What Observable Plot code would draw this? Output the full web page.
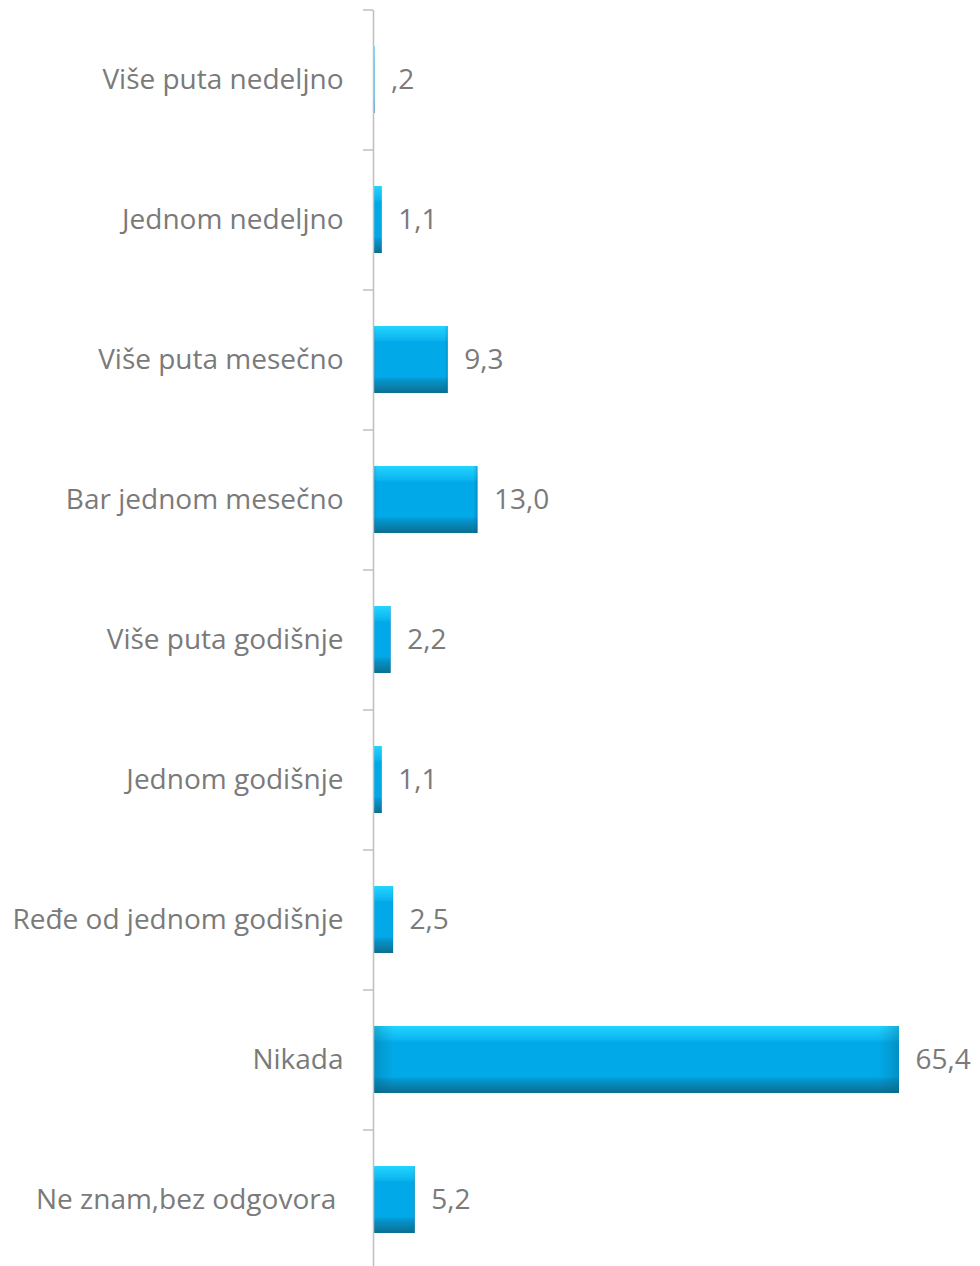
<!DOCTYPE html>
<html>
<head>
<meta charset="utf-8">
<script src="https://cdn.jsdelivr.net/npm/d3@7"></script>
<script src="https://cdn.jsdelivr.net/npm/@observablehq/plot@0.6"></script>
<style>
  html, body { margin: 0; padding: 0; background: #fff; }
  #chart svg { display: block; }
</style>
</head>
<body>
<div id="chart"></div>
<script>
const categories = [
  "Više puta nedeljno",
  "Jednom nedeljno",
  "Više puta mesečno",
  "Bar jednom mesečno",
  "Više puta godišnje",
  "Jednom godišnje",
  "Ređe od jednom godišnje",
  "Nikada",
  "Ne znam,bez odgovora\u00a0"
];
const values = [0.2, 1.1, 9.3, 13.0, 2.2, 1.1, 2.5, 65.4, 5.2];

const data = categories.map((c, i) => ({category: c, value: values[i]}));
const fmt = v => v.toFixed(1).replace(".", ",").replace(/^0,/, ",");

const chart = Plot.plot({
  width: 980,
  height: 1266,
  marginTop: 10,
  marginBottom: 0,
  marginLeft: 373,
  marginRight: 44,
  style: {fontFamily: "'Open Sans', sans-serif", background: "#fff"},
  x: {domain: [0, 70], axis: null},
  y: {domain: categories, range: [10, 1270], paddingInner: 0.52, paddingOuter: 0.26, axis: null},
  marks: [
    Plot.barX(data, {x: "value", y: "category", fill: "url(#barGradV)"}),
    Plot.barX(data, {x: "value", y: "category", fill: "url(#barGradH)"}),
    Plot.text(data, {x: "value", y: "category", text: d => fmt(d.value), textAnchor: "start", dx: 16, fontSize: 28, fill: "#7a7a7a"}),
    Plot.axisY({tickSize: 10, text: null, dy: -70, stroke: "#bfbfbf", strokeWidth: 1.5, label: null}),
    Plot.axisY({tickSize: 0, tickPadding: 30, fontSize: 28, fill: "#7a7a7a", label: null}),
    Plot.ruleX([0], {stroke: "#bfbfbf", strokeWidth: 1.5})
  ]
});

const defs = d3.select(chart).insert("defs", ":first-child");
const gv = defs.append("linearGradient").attr("id", "barGradV").attr("x1", 0).attr("y1", 0).attr("x2", 0).attr("y2", 1);
[[0, "#23d4ff"], [0.2, "#0cb6f0"], [0.24, "#02a9e8"], [0.76, "#02a9e8"], [0.8, "#0596cf"], [1, "#0a6f90"]]
  .forEach(([o, c]) => gv.append("stop").attr("offset", o).attr("stop-color", c));
const gh = defs.append("linearGradient").attr("id", "barGradH").attr("x1", 0).attr("y1", 0).attr("x2", 1).attr("y2", 0);
[[0, "#065f80", 0.35], [0.02, "#065f80", 0.15], [0.04, "#065f80", 0], [0.96, "#065f80", 0], [0.98, "#065f80", 0.15], [1, "#065f80", 0.35]]
  .forEach(([o, c, a]) => gh.append("stop").attr("offset", o).attr("stop-color", c).attr("stop-opacity", a));

document.getElementById("chart").appendChild(chart);
</script>
</body>
</html>
